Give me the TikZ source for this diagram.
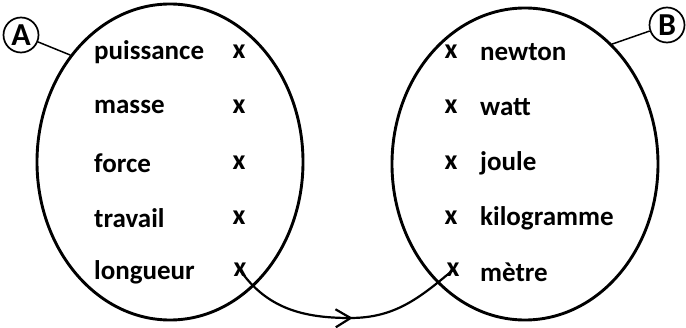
\documentclass[tikz,border=0pt]{standalone}
\usepackage{fontspec}
\setmainfont{Carlito}
\usepackage{tikz}
\usetikzlibrary{arrows.meta,positioning,shapes.geometric,decorations.markings}

\begin{document}
\begin{tikzpicture}[
  x=1pt,y=1pt,
  font=\bfseries\fontsize{27}{30}\selectfont,
  set/.style={draw,ellipse,line width=2.9pt,inner sep=0pt},
  tag/.style={draw,circle,line width=1.7pt,inner sep=1pt,minimum size=35pt,
    font=\bfseries\fontsize{32}{34}\selectfont},
  word/.style={anchor=west,inner sep=0pt},
  xmark/.style={inner sep=0pt,font=\bfseries\fontsize{28}{30}\selectfont},
  link/.style={line width=2.2pt,postaction={decorate},
    decoration={markings,mark=at position 0.53 with
      {\arrow{Straight Barb[length=15pt,width=18pt,line width=2.2pt]}}}}
]
  \useasboundingbox (0,0) rectangle (686,327);

  % the two sets
  \node[set,minimum width=266pt,minimum height=316pt] (setA) at (170,165) {};
  \node[set,minimum width=266pt,minimum height=312pt] (setB) at (525,163) {};

  \node[tag] (tagA) at (21,292) {A};
  \node[tag] (tagB) at (667,302) {B};
  \draw[line width=1.5pt] (tagA) -- (setA.133);
  \draw[line width=1.5pt] (tagB) -- (setB.54);

  % left column
  \node[word] (puissance) at (94,275) {puissance};
  \node[word] (masse)     at (94,220) {masse};
  \node[word] (force)     at (94,164) {force};
  \node[word] (travail)   at (94,109) {travail};
  \node[word] (longueur)  at (94,55)  {longueur};
  \node[xmark] (xa1) at (239,275) {x};
  \node[xmark] (xa2) at (239,220) {x};
  \node[xmark] (xa3) at (239,164) {x};
  \node[xmark] (xa4) at (239,109) {x};
  \node[xmark] (xa5) at (240,57)  {x};

  % right column
  \node[xmark] (xb1) at (451,275) {x};
  \node[xmark] (xb2) at (451,220) {x};
  \node[xmark] (xb3) at (451,164) {x};
  \node[xmark] (xb4) at (451,109) {x};
  \node[xmark] (xb5) at (453,57)  {x};
  \node[word] (newton)      at (480,275) {newton};
  \node[word] (watt)        at (480,220) {watt};
  \node[word] (joule)       at (480,164) {joule};
  \node[word] (kilogramme)  at (480,109) {kilogramme};
  \node[word] (metre)       at (480,55)  {mètre};

  \coordinate (low) at (350,9);
  \draw[link] (xa5.center) to[out=-55,in=180] (low) to[out=0,in=-140] (xb5.center);
\end{tikzpicture}
\end{document}
